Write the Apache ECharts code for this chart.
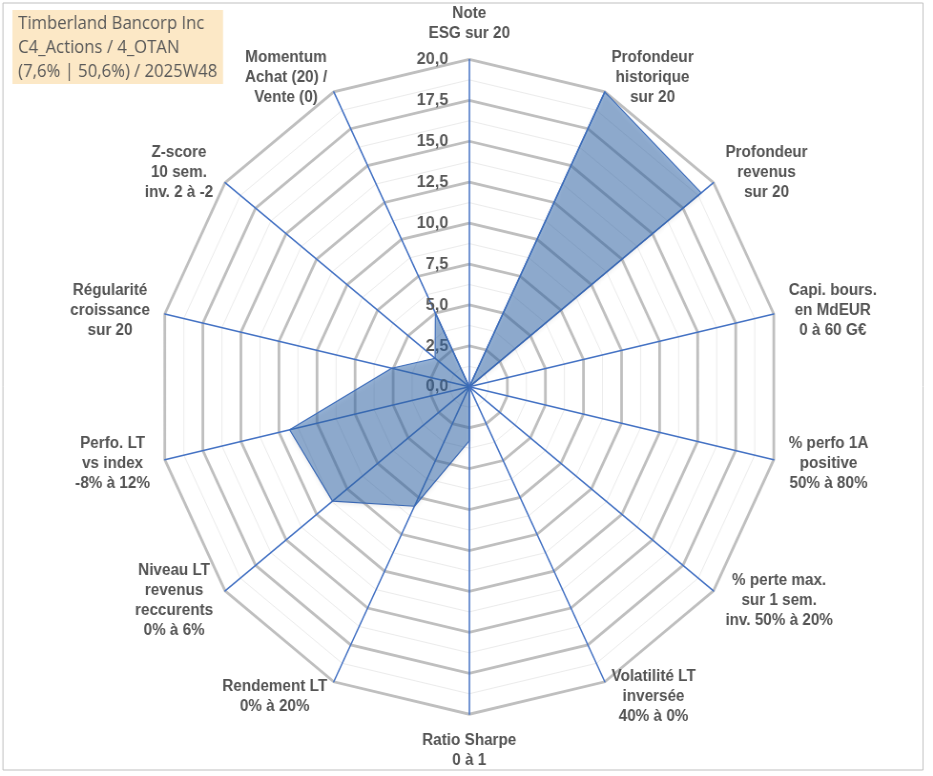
<!DOCTYPE html>
<html>
<head>
<meta charset="utf-8">
<script src="https://cdn.jsdelivr.net/npm/echarts@6/dist/echarts.min.js"></script>
<style>
html,body{margin:0;padding:0;background:#fff;overflow:hidden;}
#c{width:978px;height:776px;transform:scaleX(0.954);transform-origin:0 0;}
</style>
</head>
<body>
<div id="c"></div>
<script>
// Categories in clockwise order starting from the top
const categories = [
  'Note\nESG sur 20',
  'Profondeur\nhistorique\nsur 20',
  'Profondeur\nrevenus\nsur 20',
  'Capi. bours.\nen MdEUR\n0 à 60 G€',
  '% perfo 1A\npositive\n50% à 80%',
  '% perte max.\nsur 1 sem.\ninv. 50% à 20%',
  'Volatilité LT\ninversée\n40% à 0%',
  'Ratio Sharpe\n0 à 1',
  'Rendement LT\n0% à 20%',
  'Niveau LT\nrevenus\nreccurents\n0% à 6%',
  'Perfo. LT\nvs index\n-8% à 12%',
  'Régularité\ncroissance\nsur 20',
  'Z-score\n10 sem.\ninv. 2 à -2',
  'Momentum\nAchat (20) /\nVente (0)'
];
const values = [0, 20, 19.0, 0, 0, 0, 0, 3.3, 8.1, 11.2, 11.8, 5.1, 2.8, 5.0];
const tickLabels = ['0,0', '2,5', '5,0', '7,5', '10,0', '12,5', '15,0', '17,5', '20,0'];
const titleLines = ['Timberland Bancorp Inc', 'C4_Actions / 4_OTAN', '(7,6% | 50,6%) / 2025W48'];
const axisMin = 0;
const axisMax = 20;
const majorSplits = 8;
const minorSplits = 16;

// ECharts lays indicators counter-clockwise: reorder to get clockwise display
const order = [0];
for (let i = categories.length - 1; i >= 1; i--) order.push(i);

const mainIndicators = order.map((i, k) => ({
  name: categories[i], min: axisMin, max: axisMax,
  axisLabel: { show: k === 0 }
}));
const minorIndicators = order.map(i => ({ name: '', min: axisMin, max: axisMax }));
const seriesData = order.map(i => values[i]);

const CX = 491.9, CY = 386.8, R = 327.4;
const chart = echarts.init(document.getElementById('c'), null, { renderer: 'canvas' });
chart.setOption({
  animation: false,
  backgroundColor: '#ffffff',
  title: {
    text: titleLines.join('\n'),
    left: 13, top: 10,
    backgroundColor: '#fce8c6',
    padding: [2, 6, 0, 6],
    textStyle: { fontFamily: 'Open Sans', fontSize: 17.5, fontWeight: 'normal', color: '#595959', lineHeight: 24 }
  },
  graphic: [{
    type: 'rect', silent: true, z: 0,
    shape: { x: 3.1, y: 3, width: 964.4, height: 767 },
    style: { fill: 'none', stroke: '#bfbfbf', lineWidth: 1 }
  }],
  radar: [{
    z: 1,
    center: [CX, CY], radius: R, startAngle: 90, shape: 'polygon',
    splitNumber: minorSplits,
    indicator: minorIndicators,
    axisName: { show: false },
    axisLine: { show: false },
    axisTick: { show: false },
    axisLabel: { show: false },
    splitArea: { show: false },
    splitLine: { lineStyle: { color: '#ececec', width: 1 } }
  }, {
    z: 2,
    center: [CX, CY], radius: R, startAngle: 90, shape: 'polygon',
    splitNumber: majorSplits,
    indicator: mainIndicators,
    nameGap: 16,
    axisName: {
      show: true,
      formatter: function (name) {
        return name.split('\n').map(s => '{c|' + s + '}').join('\n');
      },
      rich: {
        c: { align: 'center', fontFamily: 'Liberation Sans, Arial, sans-serif', fontSize: 16, fontWeight: 'bold', color: '#545454', lineHeight: 20 }
      }
    },
    axisLine: { show: true, lineStyle: { color: '#4472c4', width: 1.5 } },
    axisTick: { show: false },
    axisLabel: {
      show: false, margin: 22,
      fontFamily: 'Liberation Sans, Arial, sans-serif', fontSize: 17, fontWeight: 'bold', color: '#595959',
      formatter: function (v) { return tickLabels[Math.round((v - axisMin) / ((axisMax - axisMin) / majorSplits))]; }
    },
    splitArea: { show: false },
    splitLine: { lineStyle: { color: '#bfbfbf', width: 2.8 } }
  }],
  series: [{
    type: 'radar',
    radarIndex: 1,
    z: 3,
    symbol: 'none',
    lineStyle: { color: '#4472c4', width: 1.2 },
    areaStyle: { color: 'rgba(52,106,176,0.72)', shadowBlur: 4, shadowColor: 'rgba(0,0,0,0.18)', shadowOffsetY: 2 },
    data: [{ value: seriesData, name: 'Timberland Bancorp Inc' }]
  }]
});
</script>
</body>
</html>
